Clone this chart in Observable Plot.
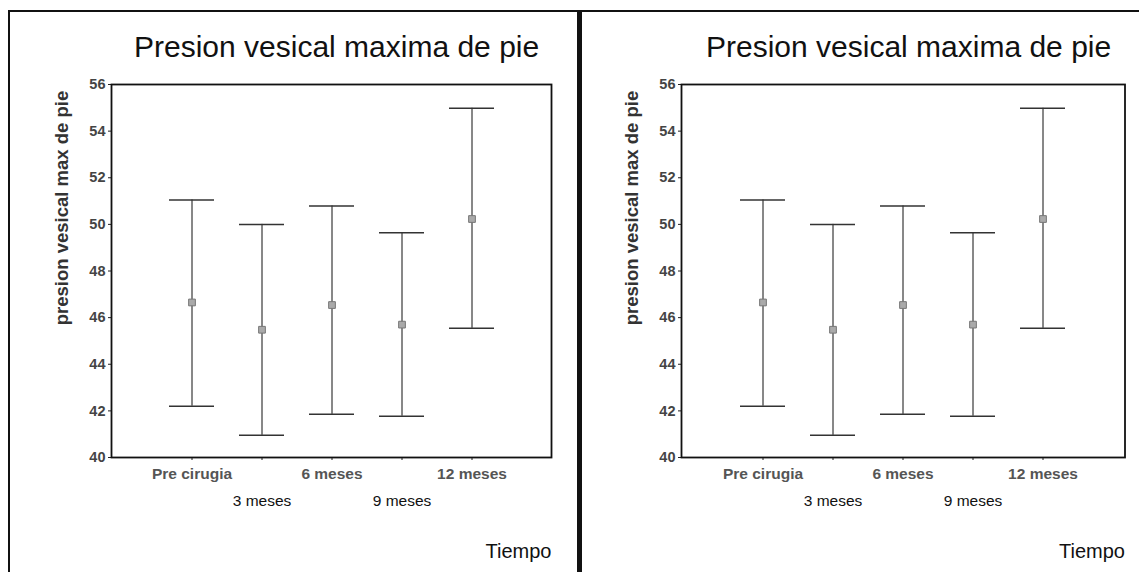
<!DOCTYPE html>
<html>
<head>
<meta charset="utf-8">
<script src="https://cdn.jsdelivr.net/npm/d3@7"></script>
<script src="https://cdn.jsdelivr.net/npm/@observablehq/plot@0.6"></script>
<style>
  html, body { margin: 0; padding: 0; background: #fff; }
  body { width: 1139px; height: 572px; position: relative; overflow: hidden; font-family: "Liberation Sans", Arial, sans-serif; }
  .line { position: absolute; background: #111; }
  .title { position: absolute; font-size: 30px; line-height: 30px; color: #111; white-space: nowrap; }
  .panel { position: absolute; }
</style>
</head>
<body>
<script>
// ---- data ----
const categories = ["Pre cirugia", "3 meses", "6 meses", "9 meses", "12 meses"];
const means = [46.65, 45.48, 46.54, 45.70, 50.23];
const lower = [42.20, 40.95, 41.85, 41.77, 45.54];
const upper = [51.05, 50.00, 50.79, 49.64, 54.98];
const yTicks = [40, 42, 44, 46, 48, 50, 52, 54, 56];
const row1Ticks = ["Pre cirugia", "6 meses", "12 meses"];
const row2Ticks = ["3 meses", "9 meses"];
const titleText = "Presion vesical maxima de pie";
const yLabel = "presion vesical max de pie";
const xLabel = "Tiempo";

const rows = categories.map((c, i) => ({cat: c, mean: means[i], lo: lower[i], hi: upper[i]}));

// frame lines
function line(l, t, w, h) {
  const d = document.createElement("div");
  d.className = "line";
  Object.assign(d.style, {left: l + "px", top: t + "px", width: w + "px", height: h + "px"});
  document.body.appendChild(d);
}
line(8, 10, 1131, 2);
line(8, 10, 1.5, 562);
line(577, 10, 5, 562);

function panel(svgLeft, svgWidth, mLeft, mRight, titleLeft) {
  const t = document.createElement("div");
  t.className = "title";
  t.textContent = titleText;
  t.style.left = titleLeft + "px";
  t.style.top = "32px";
  document.body.appendChild(t);

  const svgTop = 60;
  const chart = Plot.plot({
    width: svgWidth,
    height: 512,
    marginLeft: mLeft,
    marginRight: mRight,
    marginTop: 24,
    marginBottom: 115,
    style: {fontFamily: "'Liberation Sans', Arial, sans-serif", fontSize: "15.5px", background: "transparent", color: "#222"},
    x: {type: "band", domain: categories, paddingInner: 0.36, paddingOuter: 0.805, axis: null},
    y: {domain: [40, 56], axis: null},
    marks: [
      Plot.axisY({ticks: yTicks, tickSize: 3, tickPadding: 3, fontSize: 14.5, fontWeight: "bold", fill: "#444", label: null, stroke: "#222"}),
      Plot.axisX({ticks: row1Ticks, tickSize: 3, tickPadding: 7.3, fontSize: 15.5, fontWeight: "bold", fill: "#555", label: null, stroke: "#222"}),
      Plot.axisX({ticks: row2Ticks, tickSize: 3, tickPadding: 34.3, fontSize: 15.5, fill: "#111", label: null, stroke: "#222"}),
      Plot.ruleX(rows, {x: "cat", y1: "lo", y2: "hi", stroke: "#111", strokeWidth: 1}),
      Plot.tickY(rows, {x: "cat", y: "hi", stroke: "#333", strokeWidth: 1.5}),
      Plot.tickY(rows, {x: "cat", y: "lo", stroke: "#333", strokeWidth: 1.5}),
      Plot.dot(rows, {x: "cat", y: "mean", symbol: "square", r: 3.8, fill: "#aaa", stroke: "#777", strokeWidth: 1}),
      Plot.frame({stroke: "#111", strokeWidth: 1.8}),
      Plot.text([yLabel], {frameAnchor: "left", rotate: -90, textAnchor: "middle", lineAnchor: "middle", dx: -49, dy: -63, fontSize: 18.5, fontWeight: "bold", fill: "#333"}),
      Plot.text([xLabel], {frameAnchor: "bottom-right", textAnchor: "end", lineAnchor: "middle", dy: 94, fontSize: 20, fill: "#111"})
    ]
  });
  chart.classList.add("panel");
  chart.style.left = svgLeft + "px";
  chart.style.top = svgTop + "px";
  document.body.appendChild(chart);
}

panel(10, 565, 101, 24, 134);
panel(582, 557, 99, 14.5, 706);
</script>
</body>
</html>
